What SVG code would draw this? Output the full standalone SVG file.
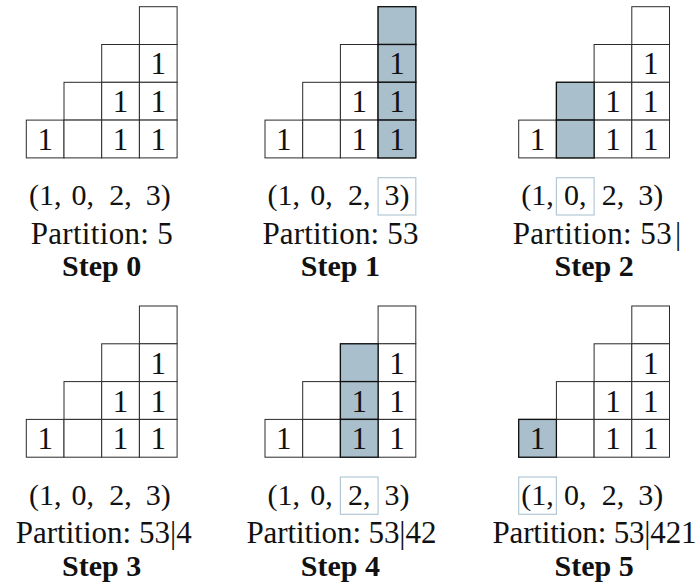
<svg xmlns="http://www.w3.org/2000/svg" xmlns:xlink="http://www.w3.org/1999/xlink" width="698" height="586" viewBox="0 0 698 586">
<style>
.cell{fill:#ffffff;stroke:#2a2a2a;stroke-width:1}
.shade{fill:#a9bfcc;stroke:#111111;stroke-width:1.3}
.hl{fill:none;stroke:#b3c8d6;stroke-width:1.2}
.t{font-family:"Liberation Serif","Times New Roman",serif;font-size:31px;fill:#111111}
.tp{font-size:30px}
.m{text-anchor:middle}
.b{font-weight:bold;font-size:30px}
</style>
<defs>
<g id="cells">
<rect class="cell" x="0" y="113.4" width="37.7" height="37.8"/>
<rect class="cell" x="37.7" y="75.6" width="37.7" height="37.8"/>
<rect class="cell" x="37.7" y="113.4" width="37.7" height="37.8"/>
<rect class="cell" x="75.4" y="37.8" width="37.7" height="37.8"/>
<rect class="cell" x="75.4" y="75.6" width="37.7" height="37.8"/>
<rect class="cell" x="75.4" y="113.4" width="37.7" height="37.8"/>
<rect class="cell" x="113.1" y="0" width="37.7" height="37.8"/>
<rect class="cell" x="113.1" y="37.8" width="37.7" height="37.8"/>
<rect class="cell" x="113.1" y="75.6" width="37.7" height="37.8"/>
<rect class="cell" x="113.1" y="113.4" width="37.7" height="37.8"/>
</g>
<g id="ones" class="t m">
<text x="18.85" y="143.4">1</text>
<text x="94.25" y="143.4">1</text>
<text x="94.25" y="105.6">1</text>
<text x="131.95" y="143.4">1</text>
<text x="131.95" y="105.6">1</text>
<text x="131.95" y="67.8">1</text>
</g>
<g id="tuple" class="t tp m">
<text x="18.85" y="198.6">(1,</text>
<text x="56.55" y="198.6">0,</text>
<text x="94.25" y="198.6">2,</text>
<text x="131.95" y="198.6">3)</text>
</g>
</defs>

<g id="step0" transform="translate(26.3,6.7)">
<use xlink:href="#cells"/>
<use xlink:href="#ones"/>
<use xlink:href="#tuple"/>
<text class="t m" x="75.4" y="236.9" textLength="142">Partition: 5</text>
<text class="t m b" x="75.4" y="269.5">Step 0</text>
</g>

<g id="step1" transform="translate(265,6.7)">
<use xlink:href="#cells"/>
<rect class="shade" x="113.1" y="0" width="37.7" height="37.8"/>
<rect class="shade" x="113.1" y="37.8" width="37.7" height="37.8"/>
<rect class="shade" x="113.1" y="75.6" width="37.7" height="37.8"/>
<rect class="shade" x="113.1" y="113.4" width="37.7" height="37.8"/>
<use xlink:href="#ones"/>
<use xlink:href="#tuple"/>
<rect class="hl" x="113.1" y="171" width="37.7" height="37.3"/>
<text class="t m" x="75.4" y="236.9" textLength="156">Partition: 53</text>
<text class="t m b" x="75.4" y="269.5">Step 1</text>
</g>

<g id="step2" transform="translate(518.7,6.7)">
<use xlink:href="#cells"/>
<rect class="shade" x="37.7" y="75.6" width="37.7" height="37.8"/>
<rect class="shade" x="37.7" y="113.4" width="37.7" height="37.8"/>
<use xlink:href="#ones"/>
<use xlink:href="#tuple"/>
<rect class="hl" x="37.7" y="171" width="37.7" height="37.3"/>
<text class="t" x="-6" y="236.9" textLength="159">Partition: 53</text>
<text class="t m" x="159.5" y="236.9">|</text>
<text class="t m b" x="75.4" y="269.5">Step 2</text>
</g>

<g id="step3" transform="translate(26.3,306)">
<use xlink:href="#cells"/>
<use xlink:href="#ones"/>
<use xlink:href="#tuple"/>
<text class="t m" x="77.4" y="237.1" textLength="176">Partition: 53|4</text>
<text class="t m b" x="75.4" y="269.7">Step 3</text>
</g>

<g id="step4" transform="translate(265,306)">
<use xlink:href="#cells"/>
<rect class="shade" x="75.4" y="37.8" width="37.7" height="37.8"/>
<rect class="shade" x="75.4" y="75.6" width="37.7" height="37.8"/>
<rect class="shade" x="75.4" y="113.4" width="37.7" height="37.8"/>
<use xlink:href="#ones"/>
<use xlink:href="#tuple"/>
<rect class="hl" x="75.4" y="171" width="37.7" height="37.3"/>
<text class="t m" x="76.4" y="237.1" textLength="190">Partition: 53|42</text>
<text class="t m b" x="75.4" y="269.7">Step 4</text>
</g>

<g id="step5" transform="translate(518.7,306)">
<use xlink:href="#cells"/>
<rect class="shade" x="0" y="113.4" width="37.7" height="37.8"/>
<use xlink:href="#ones"/>
<use xlink:href="#tuple"/>
<rect class="hl" x="0" y="171" width="37.7" height="37.3"/>
<text class="t m" x="75.8" y="237.1" textLength="204">Partition: 53|421</text>
<text class="t m b" x="75.4" y="269.7">Step 5</text>
</g>
</svg>
